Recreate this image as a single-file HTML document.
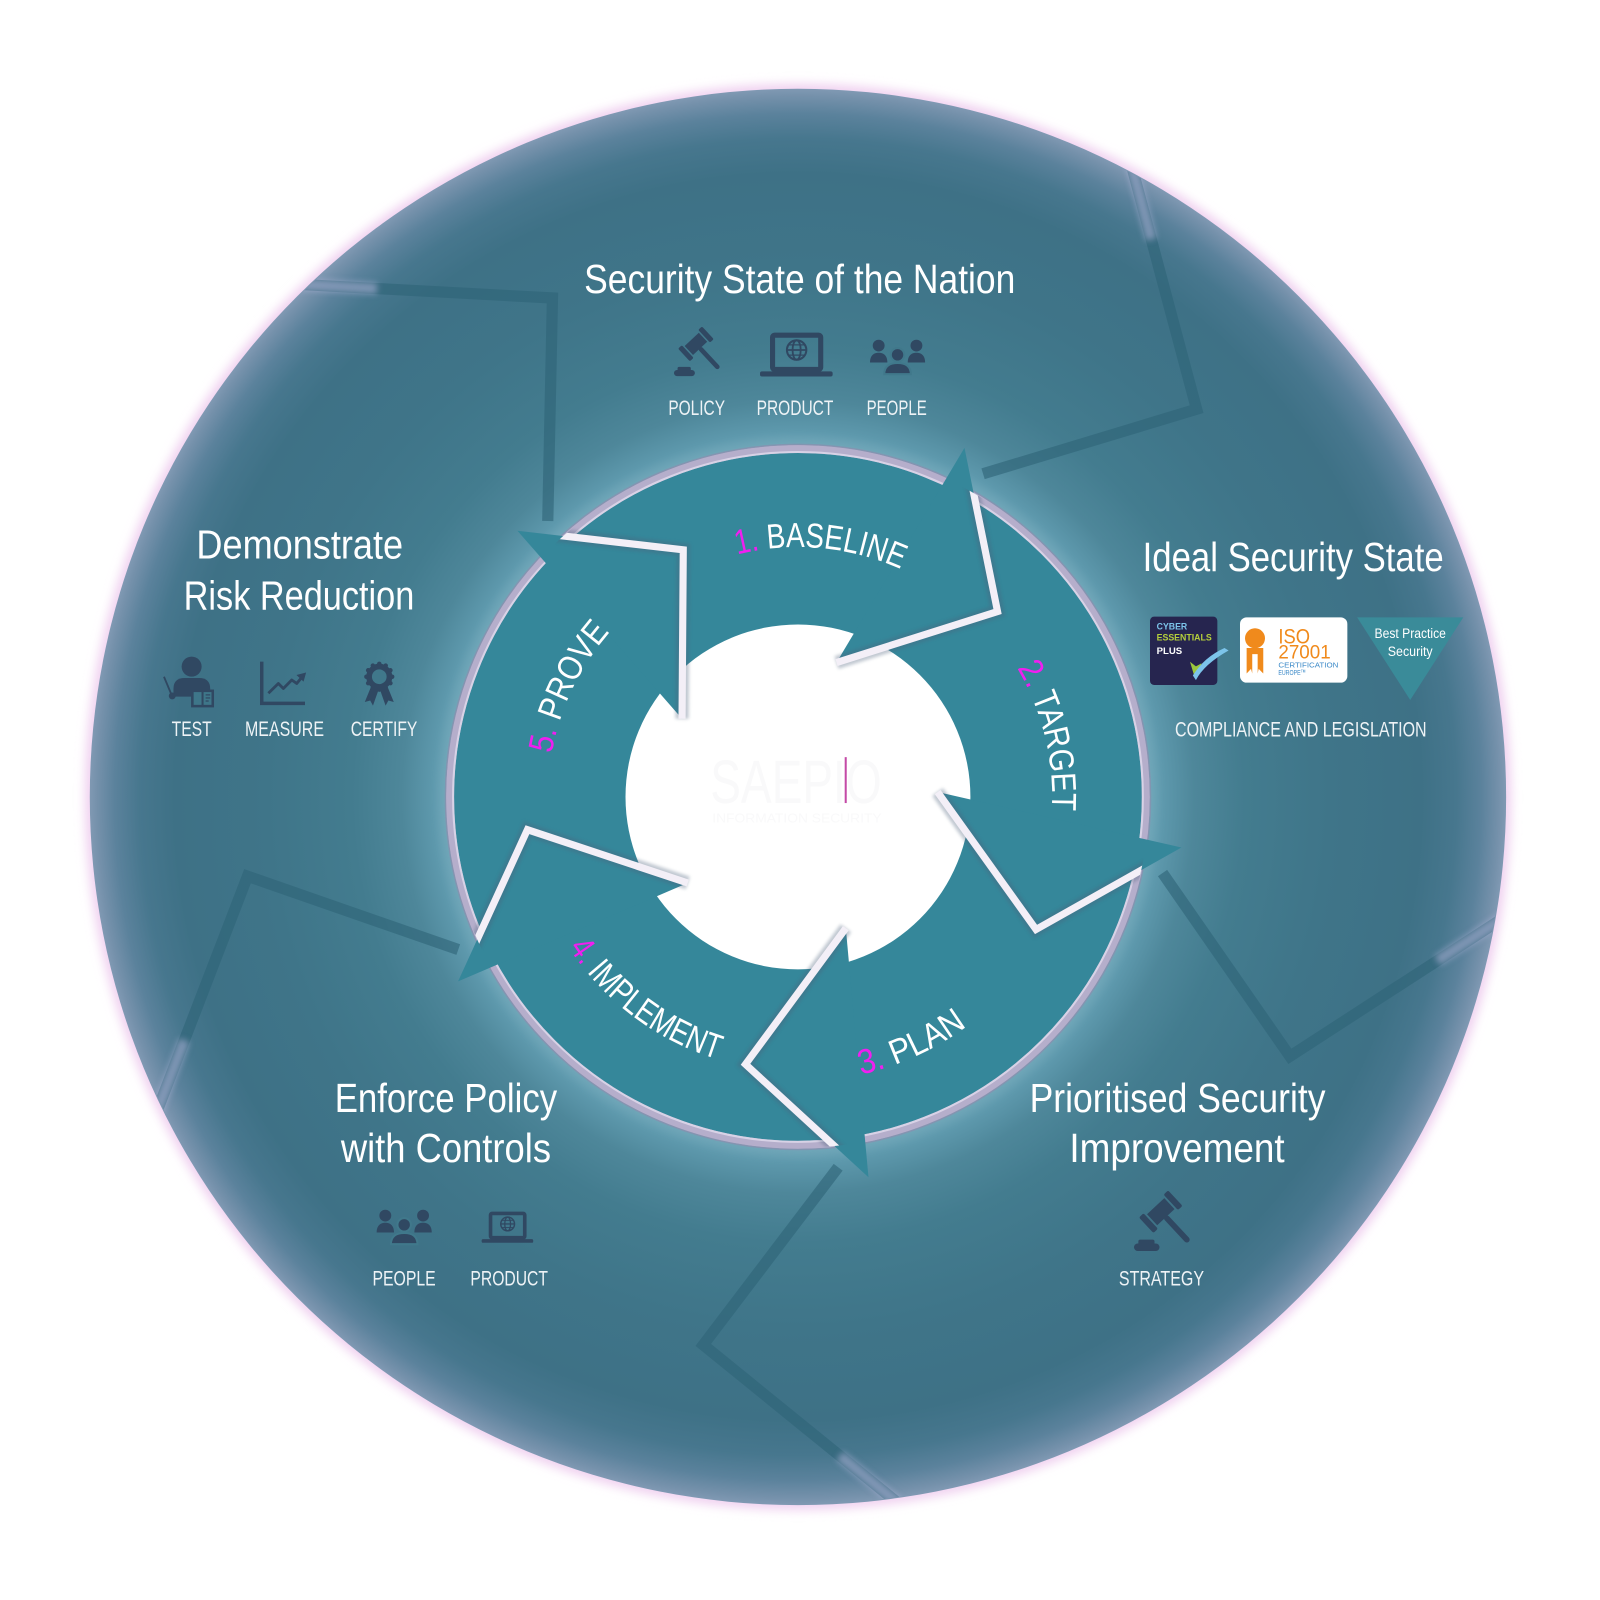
<!DOCTYPE html>
<html><head><meta charset="utf-8"><style>
html,body{margin:0;padding:0;background:#fff;width:1600px;height:1600px;overflow:hidden}
svg{display:block}
text{font-family:"Liberation Sans",sans-serif}
</style></head><body>
<svg width="1600" height="1600" viewBox="0 0 1568 1568" xmlns="http://www.w3.org/2000/svg">
<defs>
 <radialGradient id="bg" gradientUnits="userSpaceOnUse" cx="782" cy="781" r="694">
  <stop offset="0" stop-color="#6aa3b6"/>
  <stop offset="0.495" stop-color="#6aa3b6"/>
  <stop offset="0.515" stop-color="#5e99ad"/>
  <stop offset="0.56" stop-color="#4e879a"/>
  <stop offset="0.63" stop-color="#437c8f"/>
  <stop offset="0.75" stop-color="#3f7589"/>
  <stop offset="0.88" stop-color="#3e7186"/>
  <stop offset="0.93" stop-color="#47778e"/>
  <stop offset="0.965" stop-color="#5b829c"/>
  <stop offset="0.99" stop-color="#7591ab"/>
  <stop offset="1" stop-color="#8099b3"/>
 </radialGradient>
 <filter id="b5" filterUnits="userSpaceOnUse" x="0" y="0" width="1568" height="1568"><feGaussianBlur stdDeviation="5"/></filter>
 <filter id="b3" filterUnits="userSpaceOnUse" x="0" y="0" width="1568" height="1568"><feGaussianBlur stdDeviation="3"/></filter>
 <filter id="b15" filterUnits="userSpaceOnUse" x="0" y="0" width="1568" height="1568"><feGaussianBlur stdDeviation="1.5"/></filter>
 <clipPath id="cbig"><circle cx="782" cy="781" r="693"/></clipPath>
 <clipPath id="cring"><circle cx="782" cy="781" r="344"/></clipPath>
 <path id="pB" d="M545.5,717.2 A245,245 0 0 1 1026.1,760.1"/>
 <path id="pT" d="M765.9,532.5 A249,249 0 0 1 882.1,1009.0"/>
 <path id="pV" d="M639.4,980.2 A245,245 0 0 1 847.9,545.0"/>
 <path id="pP" d="M552.3,939.4 A279,279 0 0 0 1052.0,710.7"/>
 <path id="pI" d="M542.1,659.3 A269,269 0 0 0 965.8,977.4"/>
 <g id="gavel" fill="#304862">
  <rect x="0.5" y="37.6" width="20.5" height="6" rx="3"/>
  <rect x="4" y="34.5" width="13" height="4.5" rx="1.5"/>
  <g transform="translate(22,12) rotate(-43)">
   <rect x="-9.5" y="-6" width="19" height="12"/>
   <rect x="-16" y="-8.5" width="5" height="17" rx="1.5"/>
   <rect x="11" y="-8.5" width="5" height="17" rx="1.5"/>
   <rect x="-2.3" y="5" width="4.6" height="28" rx="2.3"/>
  </g>
 </g>
 <g id="laptop">
  <rect x="12.3" y="2.5" width="47.2" height="33.5" rx="2" fill="none" stroke="#304862" stroke-width="5"/>
  <rect x="0" y="38" width="71.2" height="5" rx="2" fill="#304862"/>
  <g fill="none" stroke="#304862">
   <circle cx="35.9" cy="17" r="9.5" stroke-width="2"/>
   <ellipse cx="35.9" cy="17" rx="4" ry="9.5" stroke-width="1.8"/>
   <line x1="26.4" y1="17" x2="45.4" y2="17" stroke-width="1.8"/>
   <line x1="28" y1="12" x2="43.8" y2="12" stroke-width="1.3"/>
   <line x1="28" y1="22" x2="43.8" y2="22" stroke-width="1.3"/>
  </g>
 </g>
 <g id="people" fill="#304862">
  <circle cx="8.5" cy="5.5" r="5.8"/>
  <circle cx="45.5" cy="5.5" r="5.8"/>
  <path d="M0,22 C0,15 4,12.5 8.5,12.5 C13,12.5 17,15 17,22 Z"/>
  <path d="M37,22 C37,15 41,12.5 45.5,12.5 C50,12.5 54,15 54,22 Z"/>
  <circle cx="27" cy="14.5" r="6.6" stroke="#40788b" stroke-width="2"/>
  <path d="M14,33.5 C14,26 19,22.5 27,22.5 C35,22.5 40,26 40,33.5 Z" stroke="#40788b" stroke-width="2"/>
 </g>
</defs>

<rect x="0" y="0" width="1568" height="1568" fill="#ffffff"/>

<!-- outer glow -->
<circle cx="782" cy="781" r="699" fill="#f0d2f0" filter="url(#b5)"/>
<!-- big circle -->
<circle cx="782" cy="781" r="694" fill="url(#bg)"/>

<!-- big faint chevron bands -->
<g clip-path="url(#cbig)">
 <g fill="none" stroke="#2f6478" stroke-width="11" stroke-linejoin="miter" opacity="0.62">
  <polyline points="1107.1,155.4 1172.7,401.0 963.4,464.3"/>
  <polyline points="1477.4,896.9 1264.1,1035.2 1139.3,855.6"/>
  <polyline points="886.6,1478.3 689.2,1318.0 821.4,1143.9"/>
  <polyline points="151.2,1096.0 242.6,858.7 449.1,930.6"/>
  <polyline points="287.5,278.4 541.4,292.0 536.8,510.6"/>
 </g>
 <g stroke="#b4b6dc" stroke-width="11" opacity="0.55" filter="url(#b3)">
  <line x1="1107.1" y1="155.4" x2="1128.3" y2="234.6"/>
  <line x1="1477.4" y1="896.9" x2="1408.6" y2="941.5"/>
  <line x1="886.6" y1="1478.3" x2="823.0" y2="1426.6"/>
  <line x1="151.2" y1="1096.0" x2="180.7" y2="1019.5"/>
  <line x1="287.5" y1="278.4" x2="369.4" y2="282.8"/>
 </g>
</g>

<!-- inner ring -->
<circle cx="782" cy="781" r="352" fill="#7fb0c0" opacity="0.35" filter="url(#b5)"/>
<circle cx="782" cy="781" r="345" fill="#35879a"/>
<circle cx="782" cy="781" r="341" fill="none" stroke="#b5aecb" stroke-width="8"/>
<circle cx="782" cy="781" r="338" fill="none" stroke="#d8d2e6" stroke-width="2"/>
<circle cx="782" cy="781" r="345.5" fill="none" stroke="#8a8fae" stroke-width="1.5" opacity="0.7"/>

<!-- white centre -->
<circle cx="782" cy="781" r="169" fill="#ffffff"/>
<text x="696" y="787" font-size="60" fill="#f9f9fa" textLength="168" lengthAdjust="spacingAndGlyphs">SAEPIO</text>
<text x="698" y="806" font-size="13" fill="#f9f9fa" textLength="166" lengthAdjust="spacingAndGlyphs">INFORMATION SECURITY</text>
<rect x="827.8" y="742" width="2" height="45" fill="#c44aa6"/>

<!-- arrowheads -->
<g fill="#35879a">
 <polygon points="945.2,438.9 977.6,599.3 819.8,649.3"/>
 <polygon points="1157.8,830.5 1015.3,910.9 918.9,776.2"/>
 <polygon points="851.1,1153.7 730.6,1043.0 828.9,909.7"/>
 <polygon points="448.9,961.8 516.9,813.1 674.0,865.3"/>
 <polygon points="507.1,520.1 669.6,538.8 668.4,704.4"/>
</g>
<!-- gap lines -->
<g clip-path="url(#cring)" fill="none" stroke-linejoin="miter">
 <g stroke="#4d627c" stroke-width="13" opacity="0.35" filter="url(#b15)">
  <polyline points="945.2,438.9 977.6,599.3 819.8,649.3"/>
  <polyline points="1157.8,830.5 1015.3,910.9 918.9,776.2"/>
  <polyline points="851.1,1153.7 730.6,1043.0 828.9,909.7"/>
  <polyline points="448.9,961.8 516.9,813.1 674.0,865.3"/>
  <polyline points="507.1,520.1 669.6,538.8 668.4,704.4"/>
 </g>
 <g stroke="#f3eff7" stroke-width="7">
  <polyline points="945.2,438.9 977.6,599.3 819.8,649.3"/>
  <polyline points="1157.8,830.5 1015.3,910.9 918.9,776.2"/>
  <polyline points="851.1,1153.7 730.6,1043.0 828.9,909.7"/>
  <polyline points="448.9,961.8 516.9,813.1 674.0,865.3"/>
  <polyline points="507.1,520.1 669.6,538.8 668.4,704.4"/>
 </g>
</g>

<!-- ring labels -->
<g font-size="34" fill="#ffffff">
 <text><textPath href="#pB" startOffset="50%" text-anchor="middle" textLength="164" lengthAdjust="spacingAndGlyphs"><tspan fill="#f01ef0">1.</tspan> BASELINE</textPath></text>
 <text><textPath href="#pT" startOffset="50%" text-anchor="middle" textLength="146" lengthAdjust="spacingAndGlyphs"><tspan fill="#f01ef0">2.</tspan> TARGET</textPath></text>
 <text><textPath href="#pP" startOffset="50%" text-anchor="middle" textLength="115" lengthAdjust="spacingAndGlyphs"><tspan fill="#f01ef0">3.</tspan> PLAN</textPath></text>
 <text><textPath href="#pI" startOffset="50%" text-anchor="middle" textLength="186" lengthAdjust="spacingAndGlyphs"><tspan fill="#f01ef0">4.</tspan> IMPLEMENT</textPath></text>
 <text><textPath href="#pV" startOffset="50%" text-anchor="middle" textLength="134" lengthAdjust="spacingAndGlyphs"><tspan fill="#f01ef0">5.</tspan> PROVE</textPath></text>
</g>

<!-- headings -->
<g font-size="40" fill="#ffffff">
 <text x="572.5" y="287" textLength="422.5" lengthAdjust="spacingAndGlyphs">Security State of the Nation</text>
 <text x="1119.8" y="559.6" textLength="295" lengthAdjust="spacingAndGlyphs">Ideal Security State</text>
 <text x="192.5" y="547.5" textLength="202.5" lengthAdjust="spacingAndGlyphs">Demonstrate</text>
 <text x="180" y="597.5" textLength="226" lengthAdjust="spacingAndGlyphs">Risk Reduction</text>
 <text x="328" y="1090" textLength="218" lengthAdjust="spacingAndGlyphs">Enforce Policy</text>
 <text x="334" y="1139" textLength="206" lengthAdjust="spacingAndGlyphs">with Controls</text>
 <text x="1009" y="1090" textLength="290" lengthAdjust="spacingAndGlyphs">Prioritised Security</text>
 <text x="1048" y="1139" textLength="211" lengthAdjust="spacingAndGlyphs">Improvement</text>
</g>

<!-- small labels -->
<g font-size="21" fill="#eef3f6">
 <text x="655" y="406.7" textLength="55.5" lengthAdjust="spacingAndGlyphs">POLICY</text>
 <text x="741.5" y="406.7" textLength="75.2" lengthAdjust="spacingAndGlyphs">PRODUCT</text>
 <text x="849.3" y="406.7" textLength="58.9" lengthAdjust="spacingAndGlyphs">PEOPLE</text>
 <text x="168.2" y="721.3" textLength="39.3" lengthAdjust="spacingAndGlyphs">TEST</text>
 <text x="240.1" y="721.3" textLength="77.4" lengthAdjust="spacingAndGlyphs">MEASURE</text>
 <text x="343.7" y="721.3" textLength="65.3" lengthAdjust="spacingAndGlyphs">CERTIFY</text>
 <text x="1151.5" y="722" textLength="246.6" lengthAdjust="spacingAndGlyphs">COMPLIANCE AND LEGISLATION</text>
 <text x="365" y="1260" textLength="62" lengthAdjust="spacingAndGlyphs">PEOPLE</text>
 <text x="461" y="1260" textLength="76" lengthAdjust="spacingAndGlyphs">PRODUCT</text>
 <text x="1096.5" y="1260" textLength="83.5" lengthAdjust="spacingAndGlyphs">STRATEGY</text>
</g>

<!-- icons top -->
<use href="#gavel" transform="translate(660,325)"/>
<use href="#laptop" transform="translate(744.8,326)"/>
<use href="#people" transform="translate(852.6,333.2)"/>
<!-- icons bottom-left -->
<use href="#people" transform="translate(369.1,1185.8)"/>
<use href="#laptop" transform="translate(472,1187.4) scale(0.71)"/>
<!-- strategy gavel -->
<use href="#gavel" transform="translate(1110.7,1172.8) scale(1.22)"/>

<!-- TEST icon -->
<g fill="#304862">
 <circle cx="187.8" cy="653.3" r="9.8"/>
 <path d="M170,682.7 L170,675 Q170,664.5 181,664.5 L195,664.5 Q206,664.5 206,675 L206,682.7 Z"/>
 <line x1="160.7" y1="663.2" x2="168.2" y2="681.1" stroke="#304862" stroke-width="1.8"/>
 <circle cx="168.8" cy="682" r="3.4"/>
 <rect x="188.5" y="677" width="20" height="15" fill="#3e7689" stroke="#304862" stroke-width="2.5"/>
 <line x1="198.5" y1="677" x2="198.5" y2="692" stroke="#304862" stroke-width="2"/>
 <line x1="201.5" y1="681" x2="206" y2="681" stroke="#304862" stroke-width="1.2"/>
 <line x1="201.5" y1="684" x2="206" y2="684" stroke="#304862" stroke-width="1.2"/>
 <line x1="201.5" y1="687" x2="204.5" y2="687" stroke="#304862" stroke-width="1.2"/>
</g>
<!-- MEASURE icon -->
<g fill="none" stroke="#304862">
 <polyline points="256.5,648.4 256.5,689.3 298.9,689.3" stroke-width="3.4"/>
 <polyline points="263,679.4 272.8,669.8 277.7,674.7 285.9,666.4 290.8,669.8 296,663.5" stroke-width="2.8" stroke-linejoin="round"/>
</g>
<polygon points="300,659 290.5,661.5 297.5,668" fill="#304862"/>
<!-- CERTIFY icon -->
<g fill="#304862">
 <polygon points="364,672 357.5,688 362.8,686.5 365.5,691.5 371,676"/>
 <polygon points="379.4,672 385.9,688 380.6,686.5 377.9,691.5 372.4,676"/>
 <circle cx="371.7" cy="663.2" r="12.8"/>
 <circle cx="371.7" cy="650.6" r="2.2"/><circle cx="378" cy="652.3" r="2.2"/><circle cx="382.6" cy="656.9" r="2.2"/>
 <circle cx="384.3" cy="663.2" r="2.2"/><circle cx="382.6" cy="669.5" r="2.2"/><circle cx="378" cy="674.1" r="2.2"/>
 <circle cx="371.7" cy="675.8" r="2.2"/><circle cx="365.4" cy="674.1" r="2.2"/><circle cx="360.8" cy="669.5" r="2.2"/>
 <circle cx="359.1" cy="663.2" r="2.2"/><circle cx="360.8" cy="656.9" r="2.2"/><circle cx="365.4" cy="652.3" r="2.2"/>
 <circle cx="371.7" cy="663.2" r="7.2" fill="#40788b"/>
</g>

<!-- Cyber Essentials badge -->
<rect x="1127" y="604.3" width="66" height="67" rx="4" fill="#26254f"/>
<text x="1133.5" y="616.8" font-size="9" font-weight="bold" fill="#7cc4ea" textLength="30" lengthAdjust="spacingAndGlyphs">CYBER</text>
<text x="1133.5" y="627.8" font-size="9" font-weight="bold" fill="#b4cf3c" textLength="54" lengthAdjust="spacingAndGlyphs">ESSENTIALS</text>
<text x="1133.5" y="641" font-size="9" font-weight="bold" fill="#ffffff" textLength="25" lengthAdjust="spacingAndGlyphs">PLUS</text>
<polygon points="1166.2,648.5 1171.1,664.8 1177.6,650 1172,653" fill="#9cc83c"/>
<path d="M1169,662 L1172,666.5 Q1180,651 1204,637.5 L1200,635 Q1180,644 1169,662 Z" fill="#7cc4ea"/>

<!-- ISO badge -->
<rect x="1215.2" y="605" width="105.2" height="64" rx="6.5" fill="#ffffff"/>
<path d="M1221.7,635 L1238,635 L1238,660 L1233.5,655.5 L1232.5,660 L1232.5,641 L1227.2,641 L1227.2,660 L1226,655.5 L1221.7,660 Z" fill="#f08a1c"/>
<circle cx="1229.9" cy="625.5" r="9.8" fill="#f08a1c"/>
<text x="1252.8" y="630.5" font-size="21" fill="#f08a1c" textLength="31" lengthAdjust="spacingAndGlyphs">ISO</text>
<text x="1252.8" y="645.2" font-size="19" fill="#f08a1c" textLength="51.3" lengthAdjust="spacingAndGlyphs">27001</text>
<text x="1252.8" y="654" font-size="7.5" fill="#3c8ac8" textLength="58.8" lengthAdjust="spacingAndGlyphs">CERTIFICATION</text>
<text x="1252.8" y="661.5" font-size="7.5" fill="#3c8ac8" textLength="27" lengthAdjust="spacingAndGlyphs">EUROPE™</text>

<!-- Best practice triangle -->
<polygon points="1330,605 1434,605 1382,686" fill="#3a8b99"/>
<text x="1382" y="625" font-size="14" fill="#ffffff" text-anchor="middle" textLength="70" lengthAdjust="spacingAndGlyphs">Best Practice</text>
<text x="1382" y="643" font-size="14" fill="#ffffff" text-anchor="middle" textLength="44" lengthAdjust="spacingAndGlyphs">Security</text>

</svg>
</body></html>
